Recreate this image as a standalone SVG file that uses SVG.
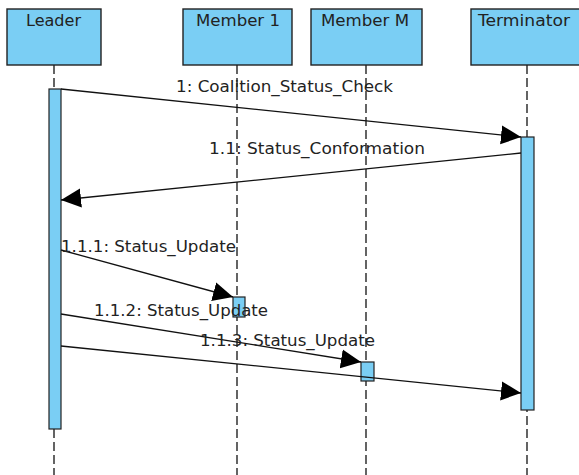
<svg xmlns="http://www.w3.org/2000/svg" width="579" height="475" viewBox="0 0 579 475">
<style>
.box{fill:#7acef4;stroke:#222;stroke-width:1.4}
.act{fill:#7acef4;stroke:#222;stroke-width:1.2}
.life{stroke:#111;stroke-width:1.3;stroke-dasharray:9,4;fill:none}
.msg{stroke:#111;stroke-width:1.3;fill:none;marker-end:url(#arr)}
text{font-family:"DejaVu Sans","Liberation Sans",sans-serif;font-size:16px;fill:#222}
</style>
<defs>
<marker id="arr" viewBox="0 0 20 20" refX="20" refY="10" markerWidth="20" markerHeight="20" markerUnits="userSpaceOnUse" orient="auto">
<path d="M0,0.5 L20,10 L0,19.5 Z" fill="#000"/>
</marker>
</defs>
<g id="lifelines">
<line class="life" x1="54" y1="65" x2="54" y2="475"/>
<line class="life" x1="237" y1="65" x2="237" y2="475"/>
<line class="life" x1="366" y1="65" x2="366" y2="475"/>
<line class="life" x1="527" y1="65" x2="527" y2="475"/>
</g>
<g id="leader">
<rect class="box" x="7" y="9" width="94" height="56"/>
<text x="26" y="26" textLength="55" lengthAdjust="spacingAndGlyphs">Leader</text>
<rect class="act" x="49" y="89" width="12" height="340"/>
</g>
<g id="member1">
<rect class="box" x="183" y="9" width="109" height="56"/>
<text x="196" y="26" textLength="84" lengthAdjust="spacingAndGlyphs">Member 1</text>
<rect class="act" x="233" y="297" width="12" height="20"/>
</g>
<g id="memberM">
<rect class="box" x="311" y="9" width="111" height="56"/>
<text x="321" y="26" textLength="88" lengthAdjust="spacingAndGlyphs">Member M</text>
<rect class="act" x="361" y="362" width="13" height="19"/>
</g>
<g id="terminator">
<rect class="box" x="471" y="9" width="110" height="56"/>
<text x="478" y="26" textLength="92" lengthAdjust="spacingAndGlyphs">Terminator</text>
<rect class="act" x="521" y="137" width="13" height="273"/>
</g>
<g id="connectors">
<line class="msg" x1="61" y1="89" x2="521" y2="137"/>
<line class="msg" x1="521" y1="153" x2="61" y2="200"/>
<line class="msg" x1="61" y1="250" x2="233" y2="297"/>
<line class="msg" x1="61" y1="314" x2="361" y2="362"/>
<line class="msg" x1="61" y1="346" x2="521" y2="393"/>
</g>
<g id="labels">
<text x="176" y="92" textLength="217" lengthAdjust="spacingAndGlyphs">1: Coalition_Status_Check</text>
<text x="209" y="154" textLength="216" lengthAdjust="spacingAndGlyphs">1.1: Status_Conformation</text>
<text x="61" y="252" textLength="175" lengthAdjust="spacingAndGlyphs">1.1.1: Status_Update</text>
<text x="94" y="316" textLength="174" lengthAdjust="spacingAndGlyphs">1.1.2: Status_Update</text>
<text x="200" y="346" textLength="175" lengthAdjust="spacingAndGlyphs">1.1.3: Status_Update</text>
</g>
</svg>
